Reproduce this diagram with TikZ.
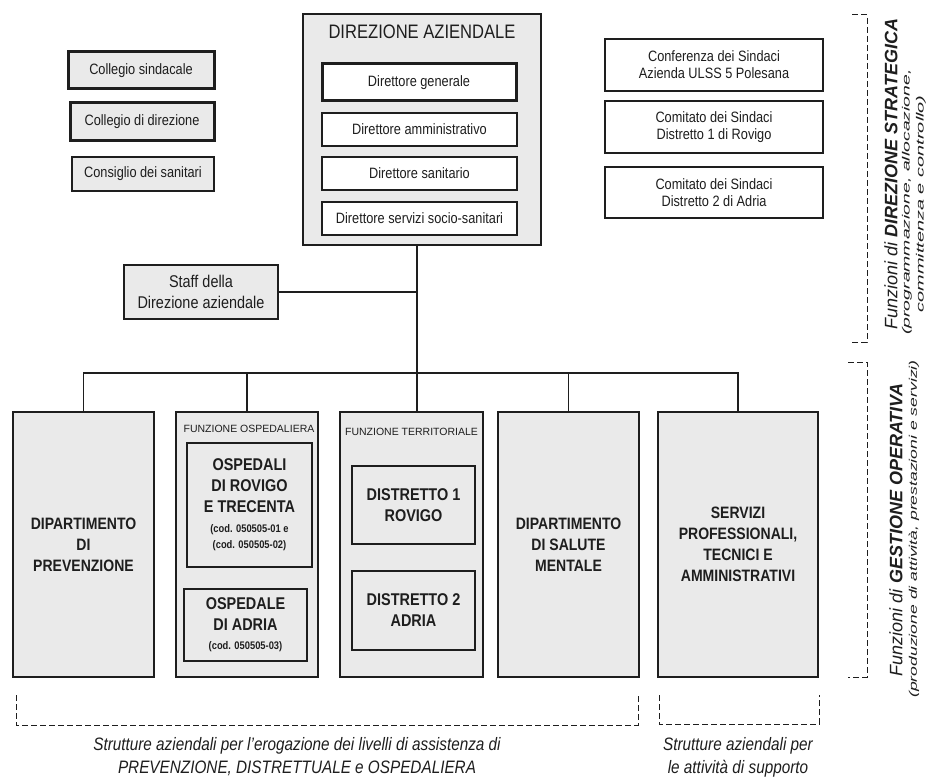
\documentclass[tikz,border=0pt]{standalone}
\usepackage{fontspec}
\setmainfont{Liberation Sans}[FakeStretch=0.85]
\newfontfamily\vfont{Liberation Sans}
\definecolor{boxgray}{RGB}{234,234,234}
\definecolor{ink}{RGB}{30,30,30}
\tikzset{
  box/.style={draw=ink, line width=1.1pt, fill=boxgray, inner sep=0pt, align=center, text=ink},
  thickbox/.style={box, line width=3pt},
  whitebox/.style={box, fill=white},
  midbox/.style={box, line width=1.6pt},
  fA/.style={font=\fontsize{15}{17}\selectfont},
  fB/.style={font=\bfseries\fontsize{16.5}{21}\selectfont},
  fC/.style={font=\bfseries\fontsize{17}{21}\selectfont},
  fSmall/.style={font=\vfont\fontsize{10.5}{12}\selectfont},
  conn/.style={draw=ink, line width=1.1pt},
  dashbr/.style={draw=ink, line width=1pt, dash pattern=on 6pt off 3pt},
  captxt/.style={text=ink, align=center, font=\itshape\fontsize{18}{23}\selectfont},
  vt/.style={text=ink, rotate=90, inner sep=0pt}
}
\newcommand{\codtxt}[1]{{\fontsize{11}{13}\selectfont #1}}
\begin{document}
\begin{tikzpicture}[x=1pt,y=-1pt]
\useasboundingbox[fill=white] (0,0) rectangle (928,778);

% top-left
\node[thickbox, fA, minimum width=146pt, minimum height=37pt] (cs) at (141,70.5) {Collegio sindacale};
\node[thickbox, fA, minimum width=144pt, minimum height=38pt] (cd) at (142,122) {Collegio di direzione};
\node[box, fA, minimum width=142pt, minimum height=34pt] (cons) at (143,174) {Consiglio dei sanitari};

% direzione aziendale
\node[box, minimum width=238pt, minimum height=231pt] (dir) at (422,129.5) {};
\node[text=ink, font=\fontsize{19.5}{22}\selectfont] (dirt) at (422,32) {DIREZIONE AZIENDALE};
\node[whitebox, thickbox, fill=white, fA, minimum width=194pt, minimum height=37pt] (dg) at (419,82.5) {Direttore generale};
\node[whitebox, fA, minimum width=195pt, minimum height=33pt] (da) at (419.5,129.5) {Direttore amministrativo};
\node[whitebox, fA, minimum width=195pt, minimum height=33pt] (dsan) at (419.5,173.5) {Direttore sanitario};
\node[whitebox, fA, minimum width=195pt, minimum height=33pt] (dss) at (419.5,218.5) {Direttore servizi socio-sanitari};

% right boxes
\node[whitebox, fA, minimum width=218pt, minimum height=52pt] (conf) at (714,65) {Conferenza dei Sindaci\\Azienda ULSS 5 Polesana};
\node[whitebox, fA, minimum width=218pt, minimum height=52pt] (com1) at (714,127) {Comitato dei Sindaci\\Distretto 1 di Rovigo};
\node[whitebox, fA, minimum width=218pt, minimum height=51pt] (com2) at (714,192.5) {Comitato dei Sindaci\\Distretto 2 di Adria};

% staff
\node[box, font=\fontsize{17}{21}\selectfont, minimum width=154pt, minimum height=54pt] (staff) at (201,292) {Staff della\\Direzione aziendale};

% bottom boxes
\node[box, fB, minimum width=141pt, minimum height=265pt] (prev) at (83.5,544.5) {DIPARTIMENTO\\DI\\PREVENZIONE};
\node[box, minimum width=142pt, minimum height=265pt] (osp) at (247,544.5) {};
\node[text=ink, fSmall] (ospl) at (249,429) {FUNZIONE OSPEDALIERA};
\node[midbox, fC, minimum width=125pt, minimum height=124pt] (osprt) at (249.5,505) {OSPEDALI\\DI ROVIGO\\E TRECENTA\\[-1pt]\codtxt{(cod. 050505-01 e}\\[-5pt]\codtxt{(cod. 050505-02)}};
\node[midbox, fC, minimum width=123pt, minimum height=72pt] (ospa) at (245.5,625) {OSPEDALE\\DI ADRIA\\[-2pt]\codtxt{(cod. 050505-03)}};

\node[box, minimum width=143pt, minimum height=265pt] (terr) at (411.5,544.5) {};
\node[text=ink, fSmall] (terrl) at (411.5,432) {FUNZIONE TERRITORIALE};
\node[midbox, fC, minimum width=123pt, minimum height=78pt] (d1) at (413.5,505) {DISTRETTO 1\\ROVIGO};
\node[midbox, fC, minimum width=123pt, minimum height=79pt] (d2) at (413.5,610.5) {DISTRETTO 2\\ADRIA};

\node[box, fB, minimum width=141pt, minimum height=265pt] (dsm) at (568.5,544.5) {DIPARTIMENTO\\DI SALUTE\\MENTALE};
\node[box, fB, minimum width=160pt, minimum height=265pt] (serv) at (738,544.5) {SERVIZI\\PROFESSIONALI,\\TECNICI E\\AMMINISTRATIVI};

% connectors
\coordinate (busT) at (417,373);
\draw[conn] (dir.south -| busT) -- (terr.north -| busT);
\draw[conn] (staff.east) -- (staff.east -| busT);
\draw[conn] (prev.north) -- (prev.north |- busT) -- (serv.north |- busT) -- (serv.north);
\draw[conn] (osp.north) -- (osp.north |- busT);
\draw[conn] (dsm.north) -- (dsm.north |- busT);

% right brackets
\coordinate (b1t) at (852,15);
\coordinate (b1b) at (852,342);
\draw[dashbr] (b1t) -- ++(15,0) |- (b1b);
\coordinate (b2t) at (848,362);
\coordinate (b2b) at (848,677);
\draw[dashbr] (b2t) -- ++(19,0) |- (b2b);

% vertical labels
\node[vt, font=\vfont\fontsize{18}{20}\selectfont] (v1a) at (891,174) {\textit{Funzioni di} \textbf{\textit{DIREZIONE STRATEGICA}}};
\node[vt] (v1b) at (907,202) {\scalebox{1.85}[1]{\vfont\itshape\fontsize{10.5}{12}\selectfont (programmazione, allocazione,}};
\node[vt] (v1c) at (921,204) {\scalebox{1.9}[1]{\vfont\itshape\fontsize{10.5}{12}\selectfont committenza e controllo)}};
\node[vt, font=\vfont\fontsize{18}{20}\selectfont] (v2a) at (896,530) {\textit{Funzioni di} \textbf{\textit{GESTIONE OPERATIVA}}};
\node[vt] (v2b) at (914,529) {\scalebox{1.6}[1]{\vfont\itshape\fontsize{11}{13}\selectfont (produzione di attività, prestazioni e servizi)}};

% bottom brackets
\coordinate (bl1) at (16,695);
\coordinate (bl2) at (638,695);
\draw[dashbr] (bl1) -- (16,725) -- (638,725) -- (bl2);
\coordinate (br1) at (659,695);
\coordinate (br2) at (819,695);
\draw[dashbr] (br1) -- (659,724) -- (819,724) -- (br2);

% captions
\node[captxt] (cap1) at (297,757) {Strutture aziendali per l'erogazione dei livelli di assistenza di\\PREVENZIONE, DISTRETTUALE e OSPEDALIERA};
\node[captxt] (cap2) at (738,757) {Strutture aziendali per\\le attività di supporto};
\end{tikzpicture}
\end{document}
